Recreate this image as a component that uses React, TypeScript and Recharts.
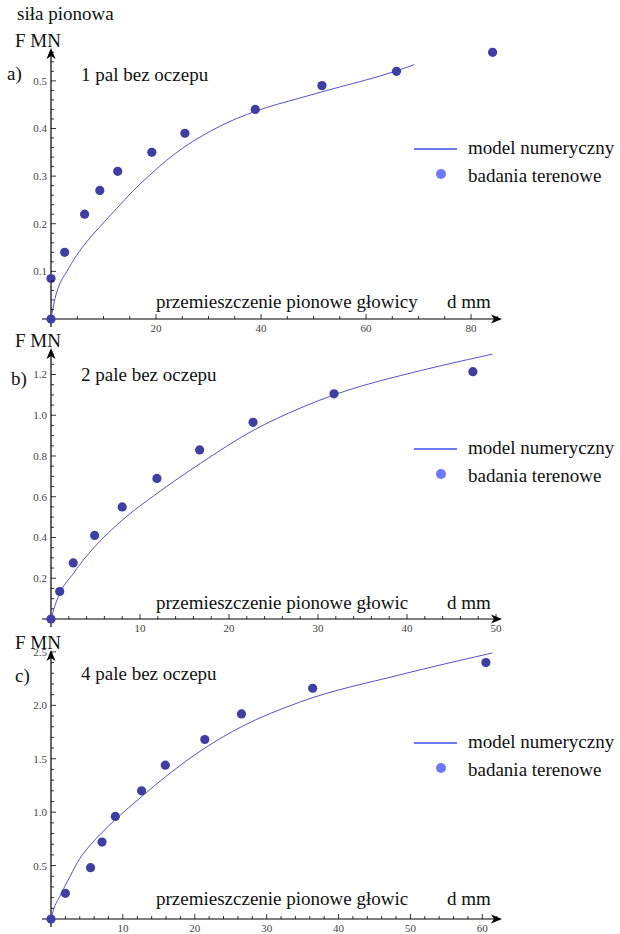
import React from 'react'
import { ComposedChart, Line, Scatter, XAxis, YAxis } from 'recharts'

const W = 620
const H = 934
const FONT = "'Liberation Serif', 'DejaVu Serif', 'Times New Roman', serif"
const DOT = '#3e3ea3'
const CURVE = '#5454c6'

// a) 1 pal bez oczepu
const testDispA = [0, 0, 2.6, 6.4, 9.3, 12.7, 19.2, 25.5, 38.9, 51.6, 65.8, 84.1]
const testForceA = [0, 0.085, 0.14, 0.22, 0.27, 0.31, 0.35, 0.39, 0.44, 0.49, 0.52, 0.56]
const modelDispA = [0, 0.76, 1.71, 2.98, 4.89, 6.79, 9.33, 12.5, 15.7, 19.2, 22.0, 25.5, 28.4, 32.2, 38.9, 47.4, 51.6, 65.8, 69.2]
const modelForceA = [0, 0.043, 0.075, 0.099, 0.134, 0.162, 0.194, 0.232, 0.27, 0.306, 0.333, 0.362, 0.382, 0.405, 0.436, 0.464, 0.477, 0.521, 0.534]

// b) 2 pale bez oczepu
const testDispB = [0, 0.98, 2.5, 4.9, 8.0, 11.9, 16.7, 22.7, 31.8, 47.4]
const testForceB = [0, 0.135, 0.275, 0.41, 0.55, 0.69, 0.83, 0.965, 1.105, 1.214]
const modelDispB = [0, 0.4, 0.98, 2.5, 3.6, 4.9, 8.0, 11.9, 16.8, 22.7, 28.0, 31.8, 35.0, 39.3, 44.0, 49.6]
const modelForceB = [0, 0.06, 0.125, 0.223, 0.288, 0.354, 0.485, 0.616, 0.764, 0.925, 1.035, 1.1, 1.145, 1.195, 1.245, 1.3]

// c) 4 pale bez oczepu
const testDispC = [0, 2.0, 5.5, 7.1, 8.95, 12.6, 15.9, 21.4, 26.5, 36.4, 60.5]
const testForceC = [0, 0.24, 0.48, 0.72, 0.96, 1.2, 1.44, 1.68, 1.92, 2.16, 2.4]
const modelDispC = [0, 0.32, 1.25, 2.65, 4.0, 5.5, 7.1, 8.95, 12.6, 15.9, 21.4, 26.5, 34.6, 48.5, 61.4]
const modelForceC = [0, 0.08, 0.215, 0.4, 0.565, 0.695, 0.81, 0.93, 1.145, 1.33, 1.6, 1.8, 2.03, 2.285, 2.49]

const xMajorA = [20, 40, 60, 80]
const yMajorA = [0.1, 0.2, 0.3, 0.4, 0.5]
const xMajorB = [10, 20, 30, 40, 50]
const yMajorB = [0.2, 0.4, 0.6, 0.8, 1.0, 1.2]
const xMajorC = [10, 20, 30, 40, 50, 60]
const yMajorC = [0.5, 1.0, 1.5, 2.0, 2.5]

const titles = ['1 pal bez oczepu', '2 pale bez oczepu', '4 pale bez oczepu']
const panelTags = ['a)', 'b)', 'c)']
const xTitles = ['przemieszczenie pionowe głowicy', 'przemieszczenie pionowe głowic', 'przemieszczenie pionowe głowic']
const legendNames = ['model numeryczny', 'badania terenowe']

const zip = (xs: number[], ys: number[]) => xs.map((x, i) => ({ x, y: ys[i] }))
const steps = (step: number, max: number) => {
  const out: number[] = []
  for (let v = step; v <= max + 1e-9; v += step) out.push(Math.round(v * 1000) / 1000)
  return out
}

const panels = [
  {
    test: zip(testDispA, testForceA), model: zip(modelDispA, modelForceA),
    top: 48, axisY: 319, xMax: 85.7, yMax: 0.569,
    xTicks: steps(5, 85), yTicks: steps(0.02, 0.56), xMajor: xMajorA, yMajor: yMajorA,
    tagX: 7, tagY: 80, titleY: 81, xTitleY: 308, legendY: 149,
  },
  {
    test: zip(testDispB, testForceB), model: zip(modelDispB, modelForceB),
    top: 348, axisY: 619, xMax: 50.56, yMax: 1.33,
    xTicks: steps(2, 50), yTicks: steps(0.05, 1.3), xMajor: xMajorB, yMajor: yMajorB,
    tagX: 11, tagY: 385, titleY: 381, xTitleY: 609, legendY: 449,
  },
  {
    test: zip(testDispC, testForceC), model: zip(modelDispC, modelForceC),
    top: 650, axisY: 919, xMax: 62.6, yMax: 2.518,
    xTicks: steps(2, 62), yTicks: steps(0.1, 2.5), xMajor: xMajorC, yMajor: yMajorC,
    tagX: 15, tagY: 682, titleY: 680, xTitleY: 905, legendY: 743,
  },
]

const LEFT = 51
const RIGHT = 501
const tickText = { fontFamily: FONT, fontSize: 11, fill: '#444' }

const xTick = (majors: number[]) => (p: any) => {
  const v = p.payload.value
  const major = majors.includes(v)
  return (
    <g>
      <line x1={p.x} x2={p.x} y1={p.y} y2={p.y - (major ? 5 : 3)} stroke="#000" strokeWidth={0.8} />
      {major && (
        <text x={p.x} y={p.y + 12.5} textAnchor="middle" style={tickText}>
          {v}
        </text>
      )}
    </g>
  )
}

const yTick = (majors: number[]) => (p: any) => {
  const v = p.payload.value
  const major = majors.includes(v)
  return (
    <g>
      <line x1={p.x} x2={p.x + (major ? 5 : 3)} y1={p.y} y2={p.y} stroke="#000" strokeWidth={0.8} />
      {major && (
        <text x={p.x - 4} y={p.y + 4} textAnchor="end" style={tickText}>
          {v.toFixed(1)}
        </text>
      )}
    </g>
  )
}

const dotShape = (p: any) => <circle cx={p.cx} cy={p.cy} r={4.6} fill={DOT} />

function Overlay() {
  const txt = { fontFamily: FONT, fontSize: 19, fill: '#111' }
  return (
    <svg width={W} height={H} style={{ position: 'absolute', left: 0, top: 0 }}>
      <text x={17} y={20} style={txt}>siła pionowa</text>
      {panels.map((p, i) => (
        <g key={i}>
          {/* axes with arrows */}
          <line x1={42} x2={RIGHT - 4} y1={p.axisY} y2={p.axisY} stroke="#000" strokeWidth={1.2} />
          <path d={`M${RIGHT + 1},${p.axisY} L${RIGHT - 10},${p.axisY - 4.5} L${RIGHT - 7},${p.axisY} L${RIGHT - 10},${p.axisY + 4.5} Z`} fill="#000" />
          <line x1={LEFT} x2={LEFT} y1={p.axisY + 8} y2={p.top + 4} stroke="#000" strokeWidth={1.2} />
          <path d={`M${LEFT},${p.top} L${LEFT - 4.5},${p.top + 11} L${LEFT},${p.top + 8} L${LEFT + 4.5},${p.top + 11} Z`} fill="#000" />
          <text x={15} y={p.top - 1} style={txt}>F MN</text>
          <text x={p.tagX} y={p.tagY} style={txt}>{panelTags[i]}</text>
          <text x={81} y={p.titleY} style={txt}>{titles[i]}</text>
          <text x={156} y={p.xTitleY} style={txt}>{xTitles[i]}</text>
          <text x={447} y={p.xTitleY} style={txt}>d mm</text>
          {/* legend */}
          <line x1={414} x2={457} y1={p.legendY} y2={p.legendY} stroke="#3a4ee6" strokeWidth={1.6} />
          <text x={468} y={p.legendY + 5} style={txt}>{legendNames[0]}</text>
          <circle cx={441} cy={p.legendY + 25} r={5} fill="#6f79ff" />
          <text x={468} y={p.legendY + 33} style={txt}>{legendNames[1]}</text>
        </g>
      ))}
    </svg>
  )
}

export default function App() {
  return (
    <div style={{ position: 'absolute', left: 0, top: 0, width: W, height: H, background: '#fff' }}>
      <Overlay />
      {panels.map((p, i) => (
        <div key={i} style={{ position: 'absolute', left: 0, top: 0 }}>
          <ComposedChart
            width={W}
            height={H}
            margin={{ top: p.top, bottom: H - p.axisY - 1, left: LEFT - 1, right: W - RIGHT }}
          >
            <XAxis
              type="number"
              dataKey="x"
              domain={[0, p.xMax]}
              ticks={p.xTicks}
              interval={0}
              height={1}
              axisLine={false}
              tickLine={false}
              tickSize={0}
              tickMargin={0}
              tick={xTick(p.xMajor)}
            />
            <YAxis
              type="number"
              dataKey="y"
              domain={[0, p.yMax]}
              ticks={p.yTicks}
              interval={0}
              width={1}
              axisLine={false}
              tickLine={false}
              tickSize={0}
              tickMargin={0}
              tick={yTick(p.yMajor)}
            />
            <Line
              data={p.model}
              dataKey="y"
              type="monotone"
              stroke={CURVE}
              strokeWidth={1}
              dot={false}
              isAnimationActive={false}
            />
            <Scatter data={p.test} dataKey="y" shape={dotShape} isAnimationActive={false} />
          </ComposedChart>
        </div>
      ))}
    </div>
  )
}
